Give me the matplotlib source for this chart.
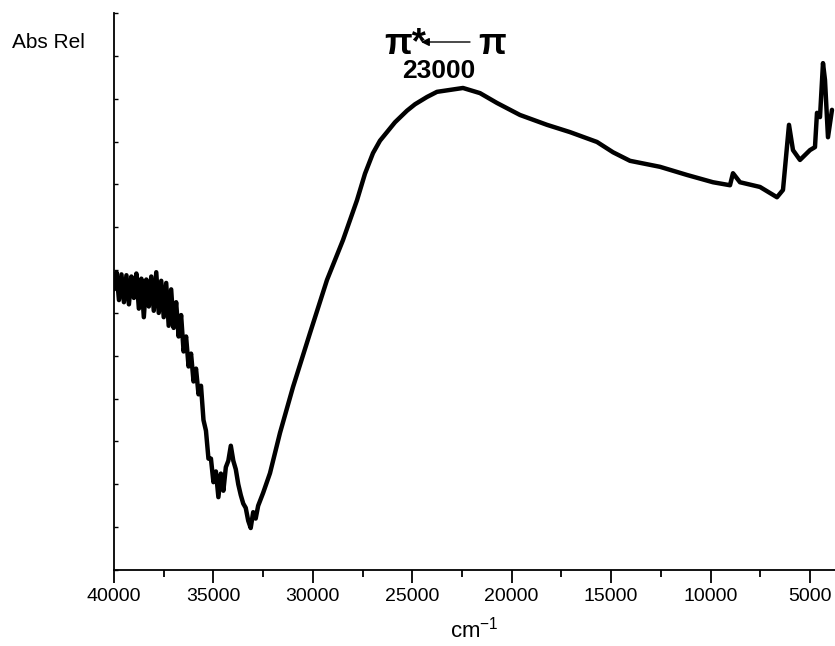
import matplotlib
matplotlib.use("Agg")
import matplotlib.pyplot as plt
from matplotlib.ticker import MultipleLocator

plt.rcParams['font.family'] = ['Liberation Sans', 'DejaVu Sans']
plt.rcParams['mathtext.fontset'] = 'custom'
plt.rcParams['mathtext.rm'] = 'Liberation Sans'
plt.rcParams['mathtext.it'] = 'Liberation Sans:italic'
plt.rcParams['mathtext.bf'] = 'Liberation Sans:bold'

# wavenumber (cm-1) and relative absorbance
wavenumber = [40000, 39875, 39750, 39625, 39500, 39375, 39250, 39125, 39000, 38875,
              38750, 38625, 38500, 38375, 38250, 38125, 38000, 37875, 37750, 37625,
              37500, 37375, 37250, 37125, 37000, 36875, 36750, 36625, 36500, 36375,
              36250, 36125, 36000, 35875, 35750, 35625, 35500, 35375, 35250, 35125,
              35000, 34875, 34750, 34625, 34500, 34375, 34250, 34125, 34000, 33875,
              33750, 33625, 33500, 33375, 33250, 33125, 33000, 32875, 32750, 32625,
              32500, 32155, 31652, 30998, 30143, 29288, 28484,
              27780, 27377, 26975, 26623, 26271, 25868, 25265, 24862, 24259, 23756,
              22449, 21594, 20739, 19583,
              18225, 17068, 15710, 14905, 14050, 12541, 11184, 9876, 9021, 8871,
              8519, 7513, 6658, 6356, 6054, 5853, 5501, 4998, 4747, 4646,
              4495, 4344, 4244, 4093, 3892]
absorbance = [6.55, 6.95, 6.30, 6.90, 6.25, 6.88, 6.20, 6.85, 6.35, 6.92,
              6.10, 6.80, 5.90, 6.78, 6.15, 6.85, 6.05, 6.95, 6.00, 6.75,
              5.90, 6.70, 5.70, 6.55, 5.65, 6.25, 5.45, 5.95, 5.10, 5.45,
              4.75, 5.05, 4.40, 4.70, 4.10, 4.30, 3.50, 3.25, 2.60, 2.60,
              2.05, 2.30, 1.70, 2.25, 1.85, 2.40, 2.55, 2.90, 2.55, 2.35,
              2.00, 1.75, 1.55, 1.45, 1.15, 0.98, 1.35, 1.20, 1.50, 1.65,
              1.80, 2.26, 3.20, 4.27, 5.53, 6.77, 7.70,
              8.63, 9.25, 9.73, 10.02, 10.22, 10.45, 10.72, 10.87, 11.04, 11.16,
              11.25, 11.13, 10.90, 10.62,
              10.39, 10.22, 9.99, 9.75, 9.55, 9.41, 9.22, 9.05, 8.98, 9.26,
              9.05, 8.94, 8.70, 8.87, 10.39, 9.80, 9.57, 9.80, 9.87, 10.67,
              10.57, 11.83, 11.44, 10.10, 10.74]

W, H = 835, 646
fig = plt.figure(figsize=(W / 100, H / 100), dpi=100)
ax = fig.add_axes([114 / W, (H - 570) / H, (W - 114) / W, 557 / H])

ax.plot(wavenumber, absorbance, color='black', lw=3.2,
        solid_joinstyle='round', solid_capstyle='round')

ax.set_xlim(40000, 3740)
ax.set_ylim(0, 13)

for s in ['top', 'right']:
    ax.spines[s].set_visible(False)
for s in ['left', 'bottom']:
    ax.spines[s].set_linewidth(1.3)

ax.xaxis.set_major_locator(MultipleLocator(5000))
ax.xaxis.set_minor_locator(MultipleLocator(2500))
ax.tick_params(axis='x', which='major', direction='out', length=9, width=1.3,
               labelsize=14, pad=4)
ax.tick_params(axis='x', which='minor', direction='out', length=5, width=1.3)
ax.yaxis.set_major_locator(MultipleLocator(1))
ax.tick_params(axis='y', which='major', direction='in', length=3, width=1.0,
               labelleft=False)

ax.set_xlabel('cm$^{-1}$', fontsize=16, labelpad=8)

fig.text(12 / W, 1 - 43 / H, 'Abs Rel', fontsize=15, ha='left', va='center')

# annotation
fig.text(384 / W, 1 - 44 / H, 'π*', fontsize=26, fontweight='bold', ha='left', va='center')
ax.annotate('', xy=(421 / W, 1 - 42 / H), xytext=(470 / W, 1 - 42 / H),
            xycoords='figure fraction', textcoords='figure fraction',
            arrowprops=dict(arrowstyle='-|>', color='black', lw=1.0,
                            mutation_scale=12, shrinkA=0, shrinkB=0))
fig.text(478 / W, 1 - 44 / H, 'π', fontsize=26, fontweight='bold', ha='left', va='center')
fig.text(439 / W, 1 - 71 / H, '23000', fontsize=19, fontweight='bold', ha='center', va='center')

fig.savefig('out.png', dpi=100)
